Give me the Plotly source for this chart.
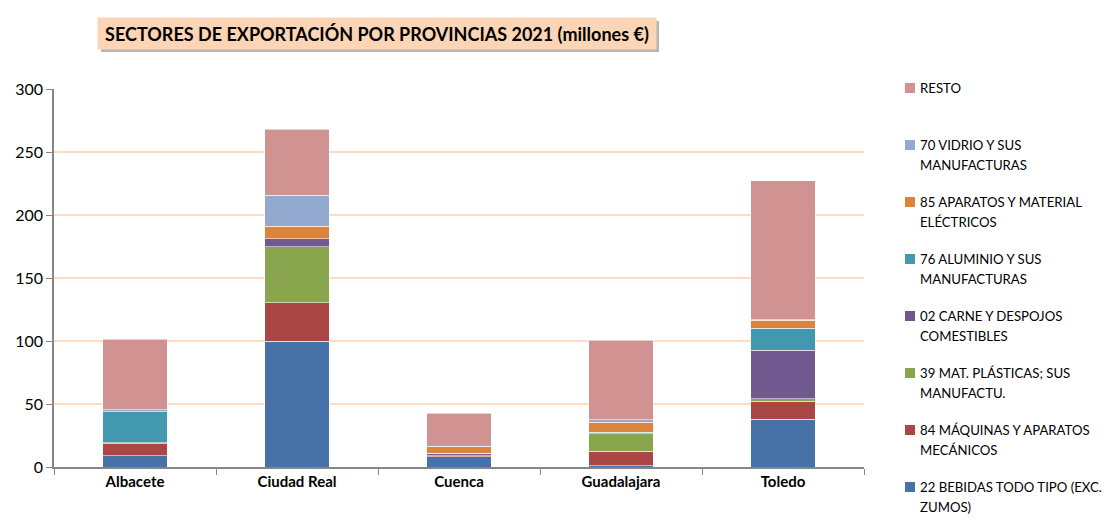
import plotly.graph_objects as go

provincias = ["Albacete", "Ciudad Real", "Cuenca", "Guadalajara", "Toledo"]

sectores = [
    ["22 BEBIDAS TODO TIPO (EXC.", "ZUMOS)"],
    ["84 MÁQUINAS Y APARATOS", "MECÁNICOS"],
    ["39 MAT. PLÁSTICAS; SUS", "MANUFACTU."],
    ["02 CARNE Y DESPOJOS", "COMESTIBLES"],
    ["76 ALUMINIO Y SUS", "MANUFACTURAS"],
    ["85 APARATOS Y MATERIAL", "ELÉCTRICOS"],
    ["70 VIDRIO Y SUS", "MANUFACTURAS"],
    ["RESTO"],
]

bebidas = [9, 100, 8, 1, 38]
maquinas = [9.5, 30.5, 1, 11.5, 14]
plasticas = [0.7, 44.5, 0, 14, 2]
carne = [0, 6, 2, 0, 38.5]
aluminio = [24.5, 0, 0, 1, 17.5]
aparatos = [0.3, 10, 5, 8, 6.5]
vidrio = [1.5, 24.5, 0.3, 2, 0.5]
resto = [56, 52.5, 26.5, 63, 110]

series = [bebidas, maquinas, plasticas, carne, aluminio, aparatos, vidrio, resto]
colores = ["#4672A8", "#AA4643", "#89A54E", "#71588F", "#4198AF", "#DB843D", "#93A9CF", "#D19392"]

titulo = "SECTORES DE EXPORTACIÓN POR PROVINCIAS 2021 (millones €)"

FONT = "Lato"
W, H = 1115, 522
ML, MR, MT, MB = 54, 251, 89, 55
PW, PH = W - ML - MR, H - MT - MB


def px(xp):
    return (xp - ML) / PW


def py(yp):
    return (H - MB - yp) / PH


fig = go.Figure()
for nombre, vals, col in zip(sectores, series, colores):
    fig.add_trace(go.Bar(
        x=provincias, y=vals, name=" ".join(nombre),
        marker=dict(color=col, line=dict(color="rgba(255,255,255,0.55)", width=1)),
        width=0.4,
        showlegend=False,
    ))

fig.update_layout(
    barmode="stack",
    width=W, height=H,
    margin=dict(l=ML, r=MR, t=MT, b=MB, autoexpand=False),
    paper_bgcolor="white",
    plot_bgcolor="white",
    font=dict(family=FONT, color="#000000"),
    xaxis=dict(
        showline=True, linecolor="#868686", linewidth=1.5,
        ticks="outside", tickson="boundaries", ticklen=6, tickcolor="#868686",
        tickfont=dict(size=15, family=FONT, color="#000000", weight="bold"),
        showgrid=False,
    ),
    yaxis=dict(
        range=[0, 300], dtick=50,
        showline=True, linecolor="#868686", linewidth=1.5,
        ticks="outside", ticklen=6, tickcolor="#868686",
        tickfont=dict(size=16, family=FONT, color="#000000"),
        showgrid=True, gridcolor="#FCDCC2", gridwidth=1.5,
        zeroline=False,
    ),
)

# manual legend (top: RESTO ... bottom: BEBIDAS)
for k, idx in enumerate(range(len(sectores) - 1, -1, -1)):
    yc = 88 + 57 * k
    fig.add_shape(type="rect", xref="paper", yref="paper",
                  x0=px(905), x1=px(915), y0=py(yc + 5), y1=py(yc - 5),
                  fillcolor=colores[idx], line=dict(width=0))
    for j, linea in enumerate(sectores[idx]):
        fig.add_annotation(xref="paper", yref="paper",
                           x=px(918), y=py(yc + 20 * j),
                           xanchor="left", yanchor="middle",
                           text=linea, showarrow=False,
                           font=dict(size=13.2, family=FONT, color="#000000"))

# title box with shadow
fig.add_shape(type="rect", xref="paper", yref="paper",
              x0=px(101), x1=px(659), y0=py(52), y1=py(21),
              fillcolor="rgba(120,120,120,0.55)", line=dict(width=0), layer="above")
fig.add_annotation(
    xref="paper", yref="paper",
    x=px(97), y=py(17),
    xanchor="left", yanchor="top",
    text="<b>" + titulo + "</b>",
    showarrow=False,
    font=dict(size=18, family=FONT, color="#000000"),
    bgcolor="#FBD5B5",
    borderpad=4,
    width=550,
    height=23,
)

fig.write_html("out.html", config={"displayModeBar": False},
               post_script="document.body.style.margin='0px';")
